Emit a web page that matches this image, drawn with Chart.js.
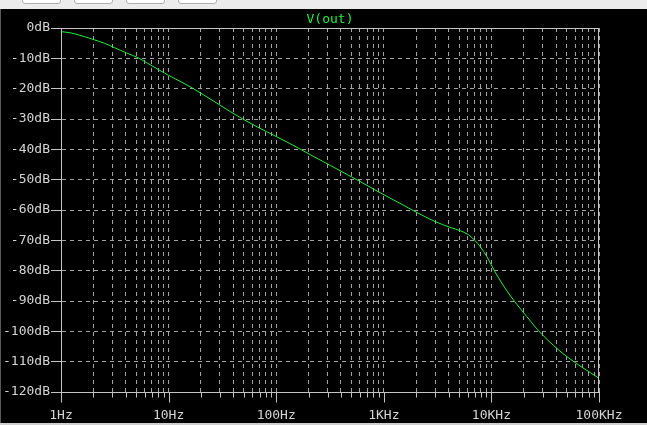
<!DOCTYPE html>
<html><head><meta charset="utf-8">
<script src="https://cdn.jsdelivr.net/npm/chart.js@4.4.1/dist/chart.umd.min.js"></script>
<style>
html,body{margin:0;padding:0;background:#000;width:647px;height:425px;overflow:hidden;}
#wrap{position:relative;width:647px;height:425px;background:#000;}
canvas{position:absolute;left:0;top:0;}
#bar{position:absolute;left:0;top:0;width:647px;height:9px;background:#ececec;z-index:2;}
.btn{position:absolute;top:-4px;height:6px;background:#fff;border:1px solid #b0b0b0;border-radius:3px;}
#lft{position:absolute;left:0;top:9px;width:1px;height:416px;background:#5a5a5a;z-index:2;}
#bot{position:absolute;left:0;top:423px;width:647px;height:2px;background:#cfcfcf;z-index:2;}
</style></head><body>
<div id="wrap">
<canvas id="c" width="647" height="425"></canvas>
<div id="bar">
<div class="btn" style="left:22px;width:37px"></div>
<div class="btn" style="left:74px;width:37px"></div>
<div class="btn" style="left:126px;width:37px"></div>
<div class="btn" style="left:178px;width:37px"></div>
</div>
<div id="lft"></div><div id="bot"></div>
</div>
<script>
const traceName = 'V(out)';
const freqHz = [1, 1.247, 1.66, 1.98, 2.55, 3.15, 4.05, 5.19, 6.2, 8.3, 10, 17, 49.5, 134, 206, 601, 922, 1415, 2023, 2990, 4125, 5106, 6100, 7040, 7840, 9050, 10800, 13370, 16560, 21280, 29330, 50100, 100000];
const magDb = [-1.22, -1.65, -2.87, -3.74, -5.06, -6.5, -8.2, -9.8, -11.35, -14.0, -15.6, -20.0, -30.1, -38.1, -41.7, -50.6, -54.3, -57.8, -60.8, -63.8, -65.7, -66.8, -68.1, -70.1, -72.0, -75.3, -80.4, -85.7, -90.3, -95.1, -100.9, -108.3, -115.5];
const decadeValues = [1, 10, 100, 1000, 10000, 100000];
const decadeLabels = ['1Hz', '10Hz', '100Hz', '1KHz', '10KHz', '100KHz'];
const minorMultipliers = [2, 3, 4, 5, 6, 7, 8, 9];
const yMin = -120, yMax = 0, yStep = 10;

const tickValues = [];
decadeValues.forEach((d, i) => {
  tickValues.push(d);
  if (i < decadeValues.length - 1) minorMultipliers.forEach(m => tickValues.push(d * m));
});

const GRID = '#a4a4a4';
const FRAME = '#c4c4c4';
const TEXT = '#d4d4d4';
const TRACE = '#1ff03c';
const FONT = {family: '"DejaVu Sans Mono", monospace', size: 13, lineHeight: 1.2};

const framePlugin = {
  id: 'frame',
  afterDraw(chart) {
    const ctx = chart.ctx, a = chart.chartArea, xs = chart.scales.x;
    ctx.save();
    ctx.strokeStyle = FRAME; ctx.lineWidth = 1; ctx.setLineDash([]);
    const L = Math.round(a.left) + 0.5, R = Math.round(a.right) - 0.5;
    const T = Math.round(a.top) + 0.5, B = Math.round(a.bottom) + 0.5;
    ctx.beginPath();
    ctx.moveTo(L, T); ctx.lineTo(R, T); ctx.lineTo(R, B); ctx.lineTo(L, B); ctx.closePath();
    ctx.stroke();
    xs.ticks.forEach(t => {
      const px = Math.round(xs.getPixelForValue(t.value)) + 0.5;
      const major = decadeValues.includes(t.value);
      ctx.beginPath();
      ctx.moveTo(px, B); ctx.lineTo(px, B + (major ? 10 : 5));
      ctx.stroke();
    });
    ctx.fillStyle = TRACE;
    ctx.font = '13px "DejaVu Sans Mono", monospace';
    ctx.textAlign = 'center'; ctx.textBaseline = 'middle';
    ctx.fillText(traceName, (a.left + a.right) / 2, 20);
    ctx.restore();
  }
};

new Chart(document.getElementById('c'), {
  type: 'line',
  data: {
    datasets: [{
      label: traceName,
      data: freqHz.map((f, i) => ({x: f, y: magDb[i]})),
      borderColor: TRACE,
      borderWidth: 1,
      pointRadius: 0,
      tension: 0.35,
      fill: false
    }]
  },
  options: {
    responsive: false,
    devicePixelRatio: 1,
    animation: false,
    layout: {padding: {top: 28, right: 48, left: 0, bottom: 0}},
    plugins: {legend: {display: false}, title: {display: false}, tooltip: {enabled: false}},
    scales: {
      x: {
        type: 'logarithmic',
        min: 1, max: 100000,
        afterBuildTicks: s => { s.ticks = tickValues.map(v => ({value: v})); },
        afterFit: s => { s.height = 33; },
        ticks: {
          autoSkip: false, maxRotation: 0, minRotation: 0,
          color: TEXT, font: FONT, padding: 16,
          callback: v => { const i = decadeValues.indexOf(v); return i >= 0 ? decadeLabels[i] : ''; }
        },
        grid: {color: GRID, lineWidth: 1, drawTicks: false},
        border: {display: true, color: FRAME, dash: [4, 4]}
      },
      y: {
        min: yMin, max: yMax,
        afterFit: s => { s.width = 61; },
        ticks: {stepSize: yStep, color: TEXT, font: FONT, padding: 1, callback: v => v + 'dB'},
        grid: {color: GRID, lineWidth: 1, drawTicks: true, tickLength: 10, tickColor: FRAME, tickBorderDash: []},
        border: {display: true, color: FRAME, dash: [4, 4]}
      }
    }
  },
  plugins: [framePlugin]
});
</script>
</body></html>
